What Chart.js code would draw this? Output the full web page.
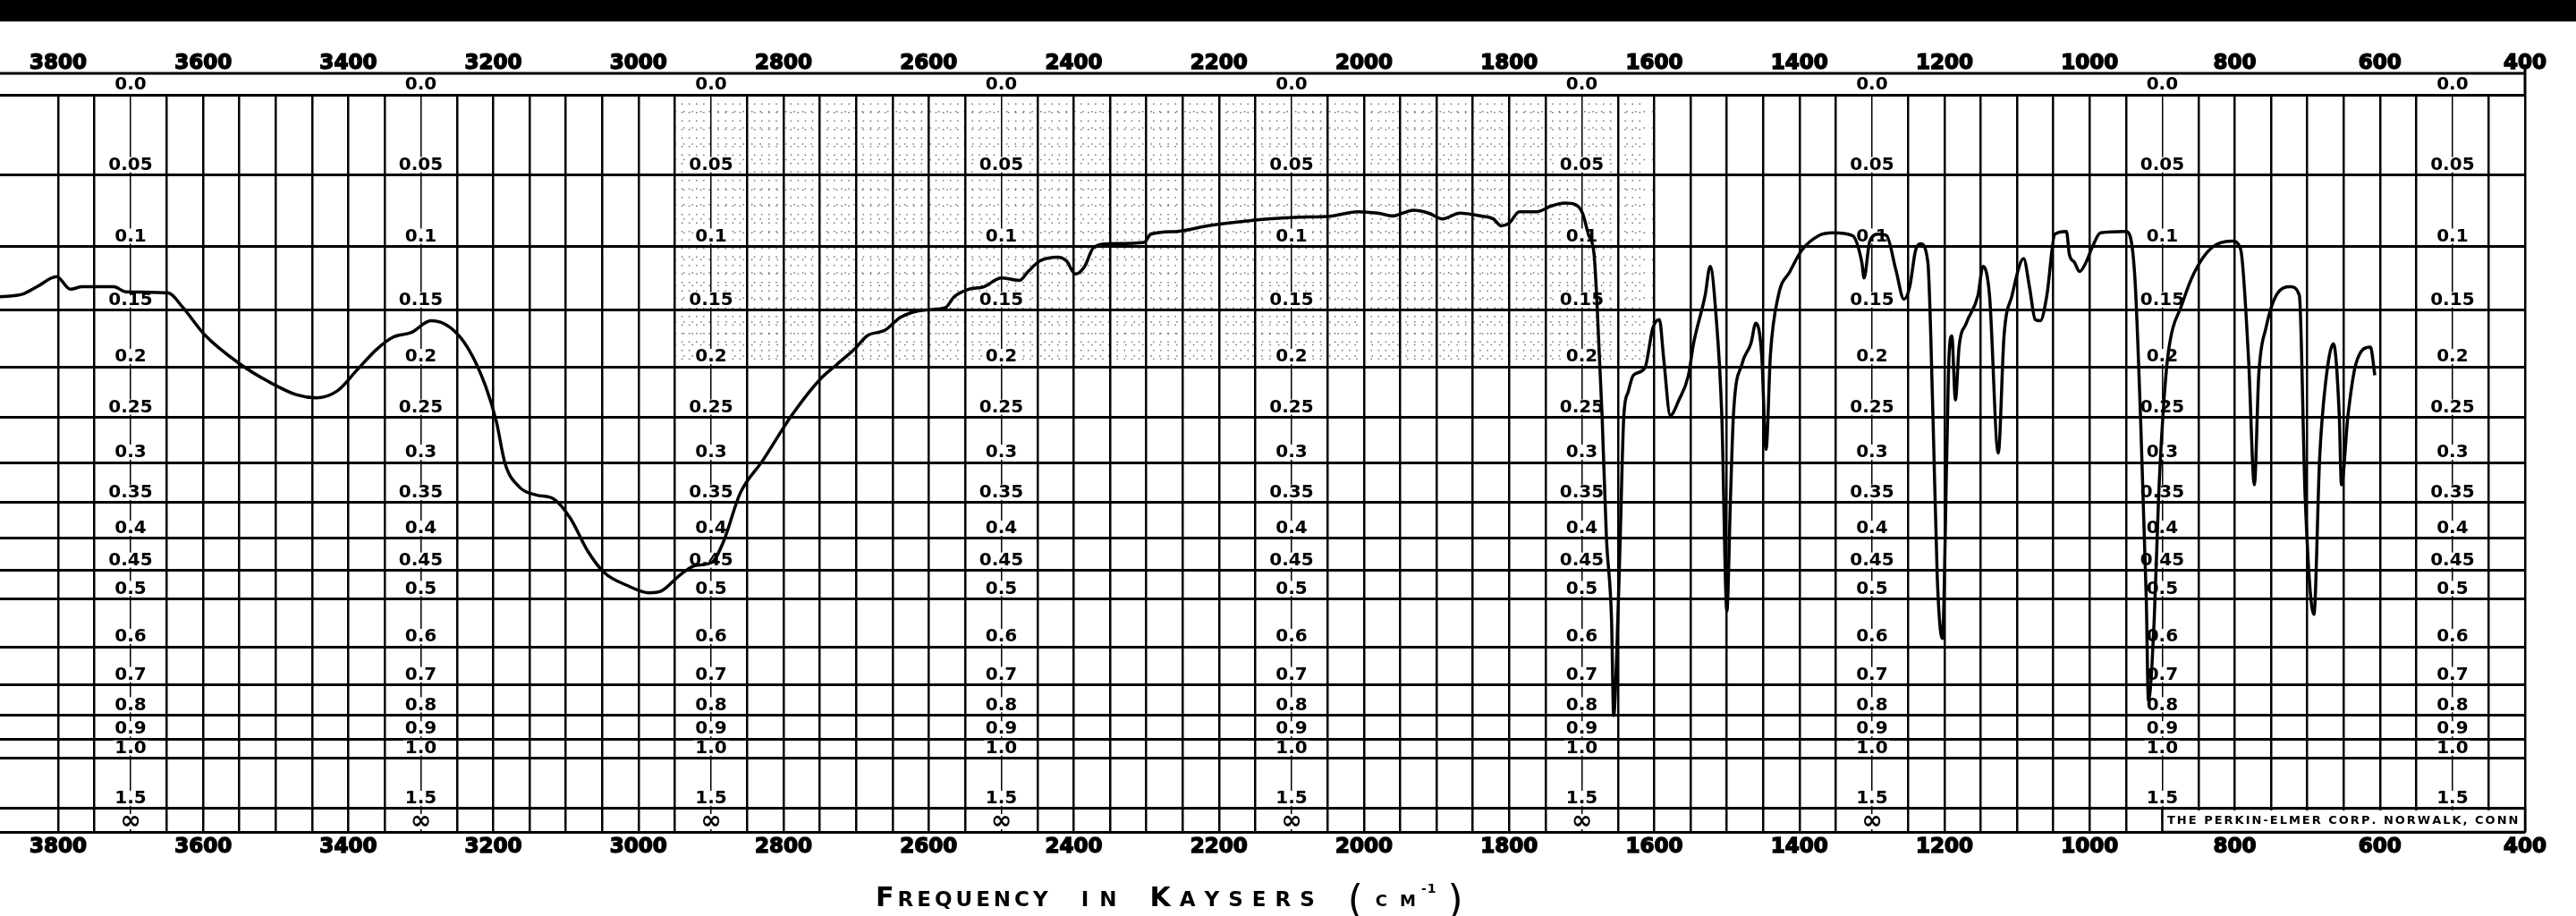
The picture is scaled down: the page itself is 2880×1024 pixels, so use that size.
<!DOCTYPE html>
<html>
<head>
<meta charset="utf-8">
<title>Infrared spectrum</title>
<script src="https://cdn.jsdelivr.net/npm/chart.js@4"></script>
<style>
  html, body { margin: 0; padding: 0; background: #fff; }
  #chartContainer { width: 2880px; height: 1024px; }
</style>
</head>
<body>
<div id="chartContainer"><canvas id="spectrumChart" width="2880" height="1024"></canvas></div>
<script>
// spectrum trace (cm-1 / absorbance)
var wavenumbers = [
  3880, 3849, 3829, 3802, 3783, 3767, 3723, 3707, 3648, 3629,
  3598, 3550, 3510, 3471, 3444, 3415, 3388, 3361, 3338, 3313,
  3286, 3259, 3234, 3211, 3196, 3184, 3164, 3141, 3117, 3094,
  3070, 3047, 3017, 2985, 2969, 2942, 2922, 2899, 2883, 2860,
  2829, 2789, 2750, 2727, 2701, 2685, 2660, 2639, 2607, 2577,
  2565, 2545, 2524, 2500, 2475, 2463, 2447, 2422, 2410, 2398,
  2385, 2373, 2352, 2303, 2294, 2257, 2216, 2152, 2096, 2045,
  2009, 1981, 1960, 1947, 1932, 1911, 1892, 1868, 1839, 1822,
  1811, 1800, 1786, 1762, 1742, 1723, 1709, 1699, 1691, 1683,
  1679, 1672, 1666, 1659, 1656, 1652, 1647, 1642, 1636, 1629,
  1613, 1602, 1593, 1587, 1578, 1566, 1553, 1546, 1530, 1523,
  1515, 1507, 1500, 1495, 1491, 1479, 1467, 1460, 1452, 1446,
  1440, 1429, 1413, 1397, 1373, 1354, 1327, 1314, 1311, 1303,
  1291, 1280, 1267, 1256, 1248, 1240, 1233, 1223, 1216, 1210,
  1203, 1197, 1194, 1190, 1185, 1180, 1170, 1154, 1147, 1138,
  1126, 1118, 1107, 1091, 1083, 1075, 1068, 1059, 1048, 1032,
  1028, 1021, 1014, 1005, 996, 985, 950, 938, 930, 922,
  919, 911, 905, 899, 892, 872, 856, 832, 804, 792,
  781, 773, 767, 757, 743, 723, 711, 703, 691, 683,
  675, 664, 656, 653, 644, 633, 613, 607
];
var absorbance = [
  0.139, 0.137, 0.131, 0.123, 0.133, 0.131, 0.131, 0.135, 0.136, 0.147,
  0.171, 0.197, 0.214, 0.227, 0.230, 0.223, 0.203, 0.184, 0.173, 0.169,
  0.159, 0.165, 0.184, 0.218, 0.254, 0.301, 0.330, 0.340, 0.345, 0.371,
  0.419, 0.454, 0.475, 0.489, 0.486, 0.457, 0.442, 0.437, 0.405, 0.338,
  0.298, 0.248, 0.212, 0.198, 0.183, 0.172, 0.167, 0.156, 0.150, 0.148,
  0.139, 0.133, 0.131, 0.124, 0.126, 0.119, 0.111, 0.108, 0.111, 0.121,
  0.115, 0.101, 0.098, 0.097, 0.091, 0.089, 0.085, 0.081, 0.079, 0.078,
  0.075, 0.076, 0.078, 0.076, 0.074, 0.076, 0.080, 0.076, 0.078, 0.080,
  0.085, 0.083, 0.075, 0.075, 0.071, 0.069, 0.070, 0.076, 0.091, 0.106,
  0.144, 0.248, 0.399, 0.539, 0.802, 0.630, 0.399, 0.248, 0.224, 0.208,
  0.201, 0.165, 0.158, 0.193, 0.248, 0.232, 0.208, 0.179, 0.138, 0.115,
  0.154, 0.248, 0.523, 0.343, 0.248, 0.197, 0.179, 0.161, 0.189, 0.285,
  0.189, 0.138, 0.119, 0.103, 0.092, 0.090, 0.092, 0.112, 0.124, 0.096,
  0.091, 0.092, 0.118, 0.141, 0.131, 0.103, 0.098, 0.112, 0.248, 0.463,
  0.581, 0.294, 0.193, 0.172, 0.232, 0.182, 0.161, 0.138, 0.115, 0.138,
  0.289, 0.172, 0.138, 0.109, 0.131, 0.158, 0.159, 0.138, 0.091, 0.089,
  0.106, 0.112, 0.119, 0.112, 0.100, 0.090, 0.089, 0.121, 0.248, 0.499,
  0.749, 0.539, 0.343, 0.248, 0.189, 0.144, 0.120, 0.101, 0.096, 0.102,
  0.193, 0.327, 0.208, 0.165, 0.138, 0.131, 0.138, 0.343, 0.530, 0.294,
  0.216, 0.179, 0.248, 0.327, 0.248, 0.197, 0.182, 0.208
];

// frequency axis labels (top and bottom)
var freqLabels = [3800, 3600, 3400, 3200, 3000, 2800, 2600, 2400, 2200, 2000, 1800, 1600, 1400, 1200, 1000, 800, 600, 400];
// absorbance lines and their printed labels
var absTicks = [0, 0.05, 0.1, 0.15, 0.2, 0.25, 0.3, 0.35, 0.4, 0.45, 0.5, 0.6, 0.7, 0.8, 0.9, 1.0, 1.5, Infinity];
var absLabels = ["0.0", "0.05", "0.1", "0.15", "0.2", "0.25", "0.3", "0.35", "0.4", "0.45", "0.5", "0.6", "0.7", "0.8", "0.9", "1.0", "1.5", "\u221E"];
// columns where the absorbance scale is printed
var labelColumns = [3700, 3300, 2900, 2500, 2100, 1700, 1300, 900, 500];

var titleWords = ["FREQUENCY", "IN", "KAYSERS"];
var makerText = "THE PERKIN-ELMER CORP. NORWALK, CONN";

// paper is linear in transmittance, printed in absorbance
function toTransmittance(a) {
  return a === Infinity ? 0 : Math.pow(10, -a);
}

// drawing letters one by one so the spacing can be opened up
function drawSpaced(ctx, text, x, y, spacing) {
  for (var i = 0; i < text.length; i++) {
    ctx.fillText(text[i], x, y);
    x += ctx.measureText(text[i]).width + spacing;
  }
  return x;
}

document.addEventListener("DOMContentLoaded", function () {
  var gridValues = [];
  for (var w = 3800; w >= 400; w -= 50) {
    gridValues.push(w);
  }

  var tickFont = { family: "DejaVu Sans", weight: "bold", size: 23 };

  // extra paper furniture: header bar, printed scales, minor dots, title
  var paperPlugin = {
    id: "paperPlugin",
    beforeDraw: function (chart) {
      var ctx = chart.ctx;
      ctx.save();
      ctx.fillStyle = "#fff";
      ctx.fillRect(0, 0, chart.width, chart.height);
      ctx.fillStyle = "#000";
      ctx.fillRect(0, 0, chart.width, 24);
      ctx.restore();
    },
    beforeDatasetsDraw: function (chart) {
      var ctx = chart.ctx;
      var xs = chart.scales.x;
      var ys = chart.scales.y;
      var area = chart.chartArea;
      ctx.save();

      // fine dotted grid in the middle of the sheet
      ctx.strokeStyle = "rgba(0,0,0,0.55)";
      ctx.lineWidth = 1.5;
      ctx.setLineDash([1.5, 8]);
      var yTop = ys.getPixelForValue(1);
      var yLow = ys.getPixelForValue(toTransmittance(0.2));
      for (var v = 2940; v >= 1620; v -= 10) {
        if (v % 50 === 0) continue;
        var px = xs.getPixelForValue(v);
        ctx.beginPath();
        ctx.moveTo(px, yTop);
        ctx.lineTo(px, yLow);
        ctx.stroke();
      }
      for (var k = 1; k < 20; k++) {
        if (k % 5 === 0) continue;
        var py = ys.getPixelForValue(toTransmittance(k / 100));
        ctx.beginPath();
        ctx.moveTo(xs.getPixelForValue(2950), py);
        ctx.lineTo(xs.getPixelForValue(1600), py);
        ctx.stroke();
      }
      ctx.setLineDash([]);

      // rule under the top frequency labels
      ctx.strokeStyle = "#000";
      ctx.lineWidth = 3;
      ctx.beginPath();
      ctx.moveTo(0, 82);
      ctx.lineTo(area.right, 82);
      ctx.moveTo(area.right, 72);
      ctx.lineTo(area.right, area.top);
      ctx.stroke();

      // absorbance labels in each column
      ctx.textAlign = "center";
      ctx.textBaseline = "middle";
      labelColumns.forEach(function (col) {
        var cx = xs.getPixelForValue(col);
        absTicks.forEach(function (a, i) {
          if (a === Infinity && col <= 900) return;
          var ly = ys.getPixelForValue(toTransmittance(a)) - 12;
          ctx.font = a === Infinity ? "bold 28px 'DejaVu Sans'" : "bold 20px 'DejaVu Sans'";
          var tw = ctx.measureText(absLabels[i]).width;
          ctx.fillStyle = "#fff";
          ctx.fillRect(cx - tw / 2 - 2, ly - 8, tw + 4, 17);
          ctx.fillStyle = "#000";
          ctx.fillText(absLabels[i], cx, ly + 1);
        });
      });

      // maker's box in the lower right corner
      var bx = xs.getPixelForValue(900);
      var by = ys.getPixelForValue(toTransmittance(1.5));
      ctx.fillStyle = "#fff";
      ctx.fillRect(bx + 1, by + 2, area.right - bx - 2, area.bottom - by - 3);
      ctx.strokeStyle = "#000";
      ctx.lineWidth = 2.5;
      ctx.strokeRect(bx, by, area.right - bx, area.bottom - by);
      ctx.fillStyle = "#000";
      ctx.font = "bold 13px 'DejaVu Sans'";
      ctx.textAlign = "left";
      var mw = 0;
      for (var m = 0; m < makerText.length; m++) {
        mw += ctx.measureText(makerText[m]).width + 2;
      }
      drawSpaced(ctx, makerText, (bx + area.right) / 2 - mw / 2, (by + area.bottom) / 2 + 1, 2);
      ctx.restore();
    },
    afterDraw: function (chart) {
      var ctx = chart.ctx;
      ctx.save();
      ctx.fillStyle = "#000";
      ctx.textAlign = "left";
      ctx.textBaseline = "alphabetic";
      var base = 1013;
      var big = "bold 30px 'DejaVu Sans'";
      var small = "bold 23px 'DejaVu Sans'";
      var spacings = [4, 12, 10];
      var x = 979;
      titleWords.forEach(function (word, i) {
        if (word === "IN") {
          ctx.font = small;
          x = drawSpaced(ctx, word, x, base, spacings[i]);
        } else {
          ctx.font = big;
          x = drawSpaced(ctx, word.charAt(0), x, base, spacings[i]);
          ctx.font = small;
          x = drawSpaced(ctx, word.slice(1), x, base, spacings[i]);
        }
        x += 37 - spacings[i];
      });
      // (cm-1)
      ctx.font = "44px 'DejaVu Sans'";
      ctx.fillText("(", x, base + 8);
      x += ctx.measureText("(").width + 14;
      ctx.font = "bold 18px 'DejaVu Sans'";
      x = drawSpaced(ctx, "CM", x, base, 14);
      x -= 8;
      ctx.font = "bold 14px 'DejaVu Sans'";
      x = drawSpaced(ctx, "-1", x, base - 15, 1);
      ctx.font = "44px 'DejaVu Sans'";
      ctx.fillText(")", x + 12, base + 8);
      ctx.restore();
    }
  };

  var ctx = document.getElementById("spectrumChart").getContext("2d");
  var chart = new Chart(ctx, {
    type: "line",
    data: {
      datasets: [
        {
          label: "spectrum",
          data: wavenumbers.map(function (w, i) {
            return { x: w, y: toTransmittance(absorbance[i]) };
          }),
          borderColor: "#000",
          borderWidth: 3.5,
          pointRadius: 0,
          fill: false,
          tension: 0.4,
          cubicInterpolationMode: "monotone",
        },
      ],
    },
    options: {
      responsive: false,
      animation: false,
      devicePixelRatio: 1,
      layout: { padding: { left: 0, right: 57, top: 0, bottom: 0 } },
      plugins: {
        legend: { display: false },
        tooltip: { enabled: false },
      },
      scales: {
        x: {
          type: "linear",
          position: "bottom",
          min: 400,
          max: 3880,
          reverse: true,
          afterBuildTicks: function (scale) {
            scale.ticks = gridValues.map(function (v) { return { value: v }; });
          },
          afterFit: function (scale) { scale.height = 94; },
          ticks: {
            autoSkip: false,
            maxRotation: 0,
            padding: 3,
            color: "#000",
            textStrokeColor: "#000",
            textStrokeWidth: 1.5,
            font: tickFont,
            callback: function (value) {
              return freqLabels.indexOf(value) !== -1 ? String(value) : "";
            },
          },
          grid: {
            color: "#000",
            drawTicks: false,
            lineWidth: function (c) {
              return c.tick && labelColumns.indexOf(c.tick.value) !== -1 ? 1.5 : 2.5;
            },
          },
          border: { display: false },
        },
        x2: {
          type: "linear",
          position: "top",
          min: 400,
          max: 3880,
          reverse: true,
          afterBuildTicks: function (scale) {
            scale.ticks = gridValues.map(function (v) { return { value: v }; });
          },
          afterFit: function (scale) { scale.height = 106; },
          ticks: {
            autoSkip: false,
            maxRotation: 0,
            padding: 13,
            color: "#000",
            textStrokeColor: "#000",
            textStrokeWidth: 1.5,
            font: tickFont,
            callback: function (value) {
              return freqLabels.indexOf(value) !== -1 ? String(value) : "";
            },
          },
          grid: { display: false },
          border: { display: false },
        },
        y: {
          type: "linear",
          min: 0,
          max: 1,
          afterBuildTicks: function (scale) {
            scale.ticks = absTicks.map(function (a) { return { value: toTransmittance(a) }; });
          },
          afterFit: function (scale) { scale.width = 0; },
          ticks: { display: false },
          grid: { color: "#000", lineWidth: 3, drawTicks: false },
          border: { display: false },
        },
      },
    },
    plugins: [paperPlugin],
  });
});
</script>
</body>
</html>
